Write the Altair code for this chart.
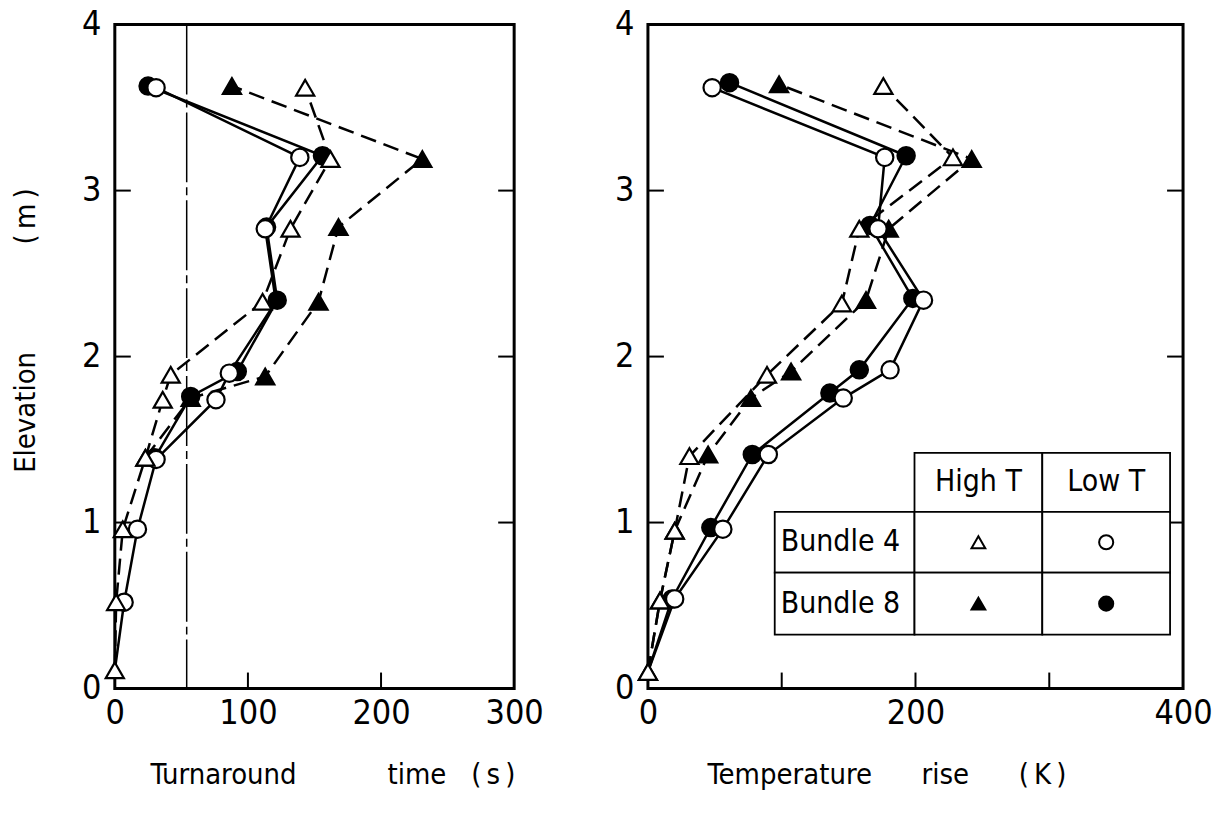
import altair as alt
import pandas as pd

FONT = "DejaVu Sans Condensed, Liberation Sans Narrow, DejaVu Sans, sans-serif"
NB = "\u00a0"
TS = "\u2009"

# ---------------- Left panel: turnaround time (s) vs elevation (m) ----------------
tt_b4_high_elev = [0.11, 0.52, 0.96, 1.39, 1.74, 1.89, 2.33, 2.77, 3.19, 3.62]
tt_b4_high_val = [0, 1, 6, 23, 36, 42, 111, 132, 162, 143]
tt_b4_low_elev = [0.11, 0.52, 0.96, 1.38, 1.74, 1.90, 2.33, 2.77, 3.20, 3.62]
tt_b4_low_val = [0, 7, 17, 31, 76, 86, 121, 113, 139, 31]
tt_b8_high_elev = [1.39, 1.75, 1.88, 2.33, 2.78, 3.19, 3.63]
tt_b8_high_val = [23, 57, 113, 153, 168, 231, 88]
tt_b8_low_elev = [1.39, 1.76, 1.91, 2.34, 2.78, 3.21, 3.63]
tt_b8_low_val = [30, 57, 92, 122, 114, 156, 25]
tt_hidden = [("B4 Low", 0.11), ("B4 Low", 2.33)]
tt_ref_line = [54]

# ---------------- Right panel: temperature rise (K) vs elevation (m) ----------------
tr_b4_high_elev = [0.10, 0.53, 0.95, 1.40, 1.89, 2.32, 2.77, 3.20, 3.63]
tr_b4_high_val = [0, 9, 20, 31, 89, 145, 158, 228, 176]
tr_b4_low_elev = [0.10, 0.54, 0.96, 1.41, 1.75, 1.92, 2.34, 2.77, 3.20, 3.62]
tr_b4_low_val = [0, 20, 56, 90, 146, 181, 206, 172, 177, 48]
tr_b8_high_elev = [0.10, 0.53, 0.95, 1.41, 1.75, 1.91, 2.34, 2.77, 3.19, 3.64]
tr_b8_high_val = [0, 9, 20, 45, 77, 107, 163, 180, 242, 98]
tr_b8_low_elev = [0.10, 0.54, 0.97, 1.41, 1.78, 1.92, 2.35, 2.79, 3.21, 3.65]
tr_b8_low_val = [0, 18, 47, 78, 136, 158, 198, 166, 193, 61]
tr_hidden = [("B4 Low", 0.10), ("B8 Low", 0.10)]

# axis values
elev_labels = [0, 1, 2, 3, 4]
elev_inner_ticks = [1, 2, 3]
tt_labels = [0, 100, 200, 300]
tt_inner_ticks = [100, 200]
tr_labels = [0, 200, 400]
tr_inner_ticks = [100, 200, 300]

legend_cols = ["High T", "Low T"]
legend_rows = ["Bundle 4", "Bundle 8"]

STYLE = {
    "B4 High": dict(shape="triangle-up", fill="white", dash=[16, 8], size=330),
    "B8 High": dict(shape="triangle-up", fill="black", dash=[16, 8], size=330),
    "B4 Low": dict(shape="circle", fill="white", dash=None, size=300),
    "B8 Low": dict(shape="circle", fill="black", dash=None, size=300),
}
LINE_ORDER = ["B4 High", "B8 High", "B4 Low", "B8 Low"]
POINT_ORDER = ["B8 High", "B8 Low", "B4 Low", "B4 High"]

W_L, W_R, H = 400, 536, 665
TICK = 16


def build_df(series, hidden):
    rows = []
    for name, elevs, vals in series:
        for e, v in zip(elevs, vals):
            rows.append({"series": name, "elev": e, "val": v,
                         "show": (name, e) not in hidden})
    return pd.DataFrame(rows)


def panel(df, xdom, xlabels, xticks, xtitle, xtitle_x, ytitle, W, extra=()):
    xs = alt.Scale(domain=xdom, nice=False, zero=False)
    ys = alt.Scale(domain=[0, 4], nice=False, zero=False)
    X = alt.X("val:Q", scale=xs,
              axis=alt.Axis(values=xlabels, title=xtitle, labelFlush=False,
                            labelPadding=8, titleX=xtitle_x, titleY=86,
                            titleBaseline="middle", titleAlign="center",
                            format="d"))
    yaxis_kw = dict(values=elev_labels, labelPadding=14, format="d")
    if ytitle:
        yaxis_kw.update(title=ytitle, titleX=-89, titleY=306,
                        titleBaseline="middle", titleAlign="center", titleAngle=270)
    else:
        yaxis_kw.update(title="")
    Y = alt.Y("elev:Q", scale=ys, axis=alt.Axis(**yaxis_kw))

    layers = []
    # inward ticks
    ytdf = pd.DataFrame({"elev": elev_inner_ticks})
    xtdf = pd.DataFrame({"val": xticks})
    layers.append(alt.Chart(ytdf).mark_rule(color="black", strokeWidth=2).encode(
        y=Y, x=alt.value(0), x2=alt.value(TICK)))
    layers.append(alt.Chart(ytdf).mark_rule(color="black", strokeWidth=2).encode(
        y=Y, x=alt.value(W - TICK), x2=alt.value(W)))
    layers.append(alt.Chart(xtdf).mark_rule(color="black", strokeWidth=2).encode(
        x=X, y=alt.value(H), y2=alt.value(H - TICK)))
    layers.extend(extra)

    for name in LINE_ORDER:
        st = STYLE[name]
        kw = dict(color="black", strokeWidth=2.5)
        if st["dash"]:
            kw["strokeDash"] = st["dash"]
        layers.append(alt.Chart(df).transform_filter(alt.datum.series == name)
                      .mark_line(**kw).encode(x=X, y=Y, order="elev:Q"))
    for name in POINT_ORDER:
        st = STYLE[name]
        layers.append(alt.Chart(df)
                      .transform_filter((alt.datum.series == name) & alt.datum.show)
                      .mark_point(shape=st["shape"], filled=True, fill=st["fill"],
                                  stroke="black", strokeWidth=2.2, size=st["size"],
                                  opacity=1, fillOpacity=1)
                      .encode(x=X, y=Y))
    return alt.layer(*layers).properties(width=W, height=H)


df_left = build_df([
    ("B4 High", tt_b4_high_elev, tt_b4_high_val),
    ("B4 Low", tt_b4_low_elev, tt_b4_low_val),
    ("B8 High", tt_b8_high_elev, tt_b8_high_val),
    ("B8 Low", tt_b8_low_elev, tt_b8_low_val),
], tt_hidden)

df_right = build_df([
    ("B4 High", tr_b4_high_elev, tr_b4_high_val),
    ("B4 Low", tr_b4_low_elev, tr_b4_low_val),
    ("B8 High", tr_b8_high_elev, tr_b8_high_val),
    ("B8 Low", tr_b8_low_elev, tr_b8_low_val),
], tr_hidden)

# dash-dot reference line in left panel
ref_line = alt.Chart(pd.DataFrame({"val": tt_ref_line})).mark_rule(
    color="black", strokeWidth=1.5, strokeDash=[70, 5, 8, 5]).encode(
    x=alt.X("val:Q", scale=alt.Scale(domain=[0, 300], nice=False, zero=False)))

# legend table in right panel (pixel layout)
one = pd.DataFrame({"k": [0]})
cx = [127, 267, 395, 523]
ry = [429, 488, 549, 611]
table_layers = []
cells = [(1, 0), (2, 0), (0, 1), (1, 1), (2, 1), (0, 2), (1, 2), (2, 2)]
for c, r in cells:
    table_layers.append(alt.Chart(one).mark_rect(fill="white", stroke="black", strokeWidth=1.8).encode(
        x=alt.value(cx[c]), x2=alt.value(cx[c + 1]), y=alt.value(ry[r]), y2=alt.value(ry[r + 1])))
for i, lab in enumerate(legend_cols):
    table_layers.append(alt.Chart(one).mark_text(
        text=lab, font=FONT, fontSize=30, align="center", baseline="middle", color="black").encode(
        x=alt.value((cx[i + 1] + cx[i + 2]) / 2), y=alt.value((ry[0] + ry[1]) / 2)))
for j, lab in enumerate(legend_rows):
    table_layers.append(alt.Chart(one).mark_text(
        text=lab, font=FONT, fontSize=30, align="left", baseline="middle", color="black").encode(
        x=alt.value(cx[0] + 6), y=alt.value((ry[j + 1] + ry[j + 2]) / 2)))
legend_keys = [["B4 High", "B4 Low"], ["B8 High", "B8 Low"]]
for j, row in enumerate(legend_keys):
    for i, name in enumerate(row):
        st = STYLE[name]
        table_layers.append(alt.Chart(one).mark_point(
            shape=st["shape"], filled=True, fill=st["fill"], stroke="black", strokeWidth=2,
            size=200 if st["shape"] == "circle" else 190, opacity=1).encode(
            x=alt.value((cx[i + 1] + cx[i + 2]) / 2), y=alt.value((ry[j + 1] + ry[j + 2]) / 2)))

left = panel(df_left, [0, 300], tt_labels, tt_inner_ticks,
             "Turnaround" + NB * 11 + "time" + NB * 3 + "(" + TS + "s" + TS + ")", 218,
             "Elevation" + NB * 13 + "(" + TS + "m" + TS + ")", W_L, extra=[ref_line])
right = panel(df_right, [0, 400], tr_labels, tr_inner_ticks,
              "Temperature" + NB * 6 + "rise" + NB * 6 + "(" + TS + "K" + TS + ")", 239,
              None, W_R, extra=table_layers)

chart = alt.hconcat(left, right, spacing=134, bounds="flush").properties(
    padding={"left": 10, "top": 5, "right": 3, "bottom": 5},
    background="white"
).configure_view(stroke="black", strokeWidth=3).configure_axis(
    labelFont=FONT, titleFont=FONT, labelColor="black", titleColor="black",
    titleFontWeight="normal", grid=False, ticks=False, domain=False,
    labelFontSize=34, titleFontSize=29
)

chart.save("out.html", embed_options={"renderer": "svg", "actions": False})
